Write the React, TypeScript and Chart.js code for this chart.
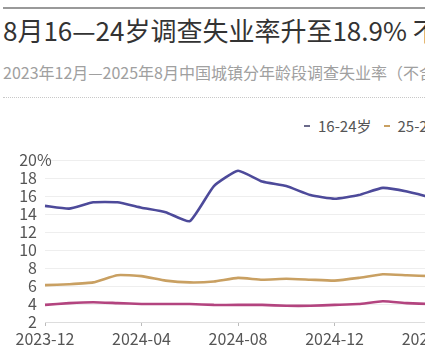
import React, { useEffect, useRef } from "react";
import { Chart, registerables } from "chart.js";

Chart.register(...registerables);

const months = [
  "2023-12", "2024-01", "2024-02", "2024-03", "2024-04", "2024-05", "2024-06",
  "2024-07", "2024-08", "2024-09", "2024-10", "2024-11", "2024-12",
  "2025-01", "2025-02", "2025-03", "2025-04", "2025-05", "2025-06", "2025-07", "2025-08",
];
const age16to24 = [14.9, 14.6, 15.3, 15.3, 14.7, 14.2, 13.2, 17.1, 18.8, 17.6, 17.1, 16.1, 15.7, 16.1, 16.9, 16.5, 15.8, 14.9, 14.5, 17.8, 18.9];
const age25to29 = [6.1, 6.2, 6.4, 7.2, 7.1, 6.6, 6.4, 6.5, 6.9, 6.7, 6.8, 6.7, 6.6, 6.9, 7.3, 7.2, 7.1, 7.1, 7.0, 6.9, 7.2];
const age30to59 = [3.9, 4.1, 4.2, 4.1, 4.0, 4.0, 4.0, 3.9, 3.9, 3.9, 3.8, 3.8, 3.9, 4.0, 4.3, 4.1, 4.0, 4.0, 3.9, 3.9, 3.9];
const seriesNames = ["16-24岁", "25-29岁", "30-59岁"];
const yMin = 2;
const yMax = 20;
const yStep = 2;

const COLORS = ["#4d4a9a", "#c9a062", "#b3447f"];
const FONT = "'Noto Sans CJK SC', 'Noto Sans', sans-serif";

export default function App() {
  const ref = useRef<HTMLCanvasElement | null>(null);

  useEffect(() => {
    if (!ref.current) return;
    const percentPlugin = {
      id: "percentSuffix",
      afterDraw(chart: any) {
        const y = chart.scales.y;
        const ctx = chart.ctx;
        ctx.save();
        ctx.font = `16px ${FONT}`;
        ctx.fillStyle = "#555";
        ctx.textAlign = "left";
        ctx.textBaseline = "middle";
        ctx.fillText("%", chart.chartArea.left - 8, y.getPixelForValue(yMax));
        ctx.restore();
      },
    };
    const chart = new Chart(ref.current, {
      type: "line",
      data: {
        labels: months,
        datasets: [
          { label: seriesNames[0], data: age16to24, borderColor: COLORS[0] },
          { label: seriesNames[1], data: age25to29, borderColor: COLORS[1] },
          { label: seriesNames[2], data: age30to59, borderColor: COLORS[2] },
        ].map((d) => ({ ...d, borderWidth: 2.6, pointRadius: 0, tension: 0.15, fill: false })),
      },
      options: {
        responsive: false,
        animation: false,
        layout: { padding: { top: 20, right: 19, bottom: 0, left: 0 } },
        plugins: { legend: { display: false }, tooltip: { enabled: false } },
        scales: {
          x: {
            offset: false,
            grid: {
              drawOnChartArea: false,
              drawTicks: true,
              tickLength: 4,
              color: (c: any) => (c.index % 4 === 0 ? "#bbb" : "rgba(0,0,0,0)"),
            },
            border: { display: true, color: "#ddd" },
            ticks: {
              autoSkip: false,
              maxRotation: 0,
              padding: 3,
              color: "#555",
              font: { family: FONT, size: 16 },
              callback: (_v: any, i: number) => (i % 4 === 0 ? months[i] : ""),
            },
            afterFit: (s: any) => {
              s.height = 38;
            },
          },
          y: {
            min: yMin,
            max: yMax,
            grid: { color: "#eeeeee", drawTicks: false },
            border: { display: false },
            ticks: {
              stepSize: yStep,
              autoSkip: false,
              padding: 8,
              color: "#555",
              font: { family: FONT, size: 16, lineHeight: 1 },
              callback: (v: any) => String(v),
            },
            afterFit: (s: any) => {
              s.width = 45;
            },
          },
        },
      },
      plugins: [percentPlugin],
    });
    return () => chart.destroy();
  }, []);

  return (
    <div
      style={{
        position: "fixed",
        left: 0,
        top: 0,
        width: 425,
        height: 360,
        overflow: "hidden",
        background: "#fff",
        fontFamily: FONT,
      }}
    >
      <div style={{ position: "absolute", left: 3, top: 7, width: 600, height: 2, background: "#999" }} />
      <div
        style={{
          position: "absolute",
          left: 3,
          top: 14,
          fontSize: 26,
          lineHeight: "32px",
          color: "#333",
          whiteSpace: "nowrap",
        }}
      >
        8月16—24岁调查失业率升至18.9% 不断走高
      </div>
      <div
        style={{
          position: "absolute",
          left: 3,
          top: 61,
          fontSize: 16,
          lineHeight: "22px",
          color: "#a0a0a0",
          whiteSpace: "nowrap",
        }}
      >
        2023年12月—2025年8月中国城镇分年龄段调查失业率（不含在校生）
      </div>
      <div style={{ position: "absolute", left: 3, top: 97, width: 600, borderTop: "1px dotted #c8c8c8" }} />
      <div
        style={{
          position: "absolute",
          left: 304,
          top: 115,
          fontSize: 15,
          lineHeight: "22px",
          color: "#555",
          whiteSpace: "nowrap",
          display: "flex",
          alignItems: "center",
        }}
      >
        {seriesNames.map((n, i) => (
          <span key={n} style={{ display: "flex", alignItems: "center", marginRight: 12 }}>
            <span style={{ display: "inline-block", width: 6, height: 2, background: i === 0 ? "#6b6a8a" : COLORS[i], marginRight: 8 }} />
            {n}
          </span>
        ))}
      </div>
      <canvas
        ref={ref}
        width={560}
        height={220}
        style={{ position: "absolute", left: 0, top: 140, width: 560, height: 220 }}
      />
    </div>
  );
}
